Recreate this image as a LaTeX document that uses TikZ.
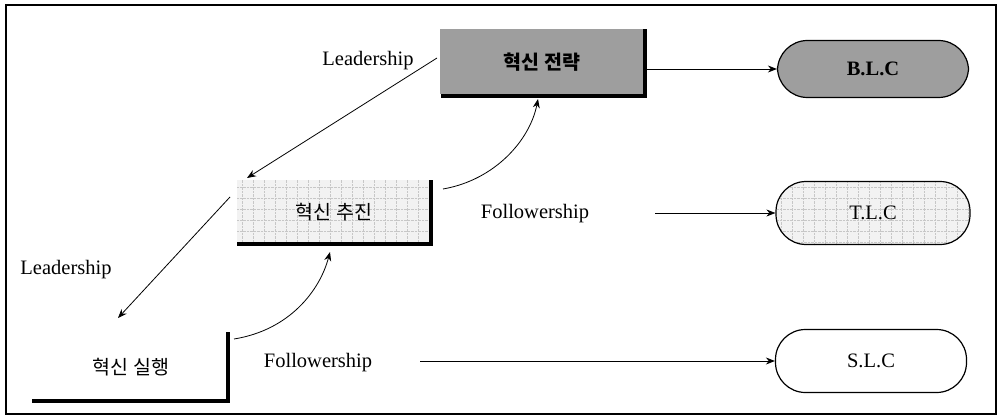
\documentclass[tikz,border=0pt]{standalone}
\usepackage{fontspec}
\setmainfont{Liberation Serif}
\newfontfamily\kr{Noto Sans CJK KR}
\usetikzlibrary{arrows.meta}
\begin{document}
\begin{tikzpicture}[x=1pt,y=-1pt,
  lbl/.style={font=\fontsize{20.5}{22}\selectfont},
  krtxt/.style={font=\kr\fontsize{19.5}{21}\selectfont},
  lc/.style={draw, line width=1.2pt, rounded corners=30pt, minimum width=191pt, minimum height=60pt, font=\fontsize{20.5}{22}\selectfont},
  flow/.style={line width=0.8pt, -{Stealth[length=9pt,width=7pt]}},
  shade/.style={line width=3.5pt, line cap=rect},
  darkfill/.style={fill=black!38},
  lightfill/.style={fill=black!5},
  gridline/.style={black!22, densely dotted, line width=0.4pt, step=11pt}]
\useasboundingbox (0,0) rectangle (998,417);
% outer frame
\draw[line width=1.3pt] (6,5) rectangle (996,414);

% strategy box (dark)
\fill[darkfill] (440,29) rectangle (645,94);
\draw[shade] (443,96) -- (645,96) -- (645,31);
\node[krtxt, font=\kr\bfseries\fontsize{19.5}{21}\selectfont] (strat) at (542,62) {혁신 전략};
\coordinate (stratR) at (647,69);
\coordinate (stratB) at (538,99);
\coordinate (stratL) at (437,58);

% promotion box (light, dotted grid)
\fill[lightfill] (237,180) rectangle (430,242);
\begin{scope}
  \clip (237,180) rectangle (430,242);
  \draw[gridline] (230,170) grid (440,250);
\end{scope}
\draw[shade] (239,244) -- (431,244) -- (431,182);
\node[krtxt] (prom) at (334,212) {혁신 추진};
\coordinate (promR) at (443,189);
\coordinate (promB) at (330,252);
\coordinate (promL) at (230,197);
\coordinate (promTL) at (247,178);

% execution box (plain)
\draw[shade] (34,401) -- (228,401) -- (228,334);
\node[krtxt] (exec) at (131,367) {혁신 실행};
\coordinate (execR) at (234,339);
\coordinate (execT) at (118,318);

% life-cycle terminals
\node[lc, darkfill, font=\bfseries\fontsize{20.5}{22}\selectfont, minimum height=57pt] (blc) at (873,69) {B.L.C};
\begin{scope}
  \clip[rounded corners=31pt] (776,182) rectangle (970,245);
  \fill[black!5] (776,182) rectangle (970,245);
  \draw[gridline] (770,175) grid (980,250);
\end{scope}
\node[lc, minimum width=194pt, minimum height=63pt] (tlc) at (873,213) {T.L.C};
\node[lc, minimum height=63pt] (slc) at (871,361) {S.L.C};

% labels
\node[lbl] (lead1) at (368,61) {Leadership};
\node[lbl] (lead2) at (66,270) {Leadership};
\node[lbl] (foll1) at (535,214) {Followership};
\node[lbl] (foll2) at (318,363) {Followership};

% connectors
\coordinate (f1) at (655,213);
\coordinate (f2) at (420,361);
\draw[flow] (stratR) -- (blc.west);
\draw[flow] (f1) -- (tlc.west);
\draw[flow] (f2) -- (slc.west);
\draw[flow] (stratL) -- (promTL);
\draw[flow] (promL) -- (execT);
\draw[flow] (promR) .. controls (495,180) and (530,140) .. (stratB);
\draw[flow] (execR) .. controls (290,330) and (320,290) .. (promB);
\end{tikzpicture}
\end{document}
